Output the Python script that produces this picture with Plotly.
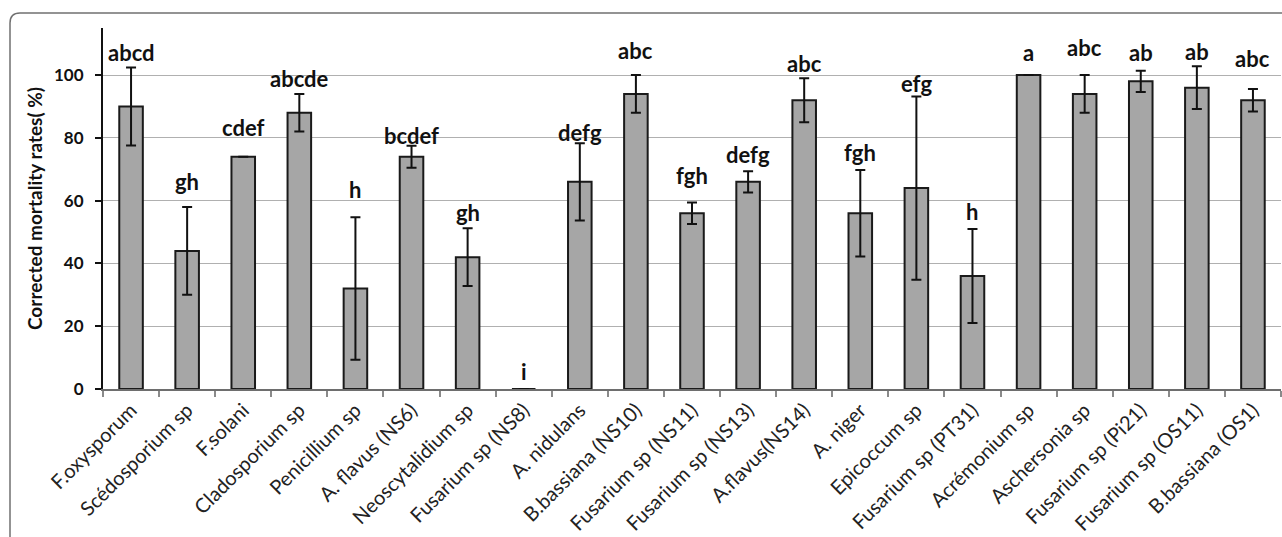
import plotly.graph_objects as go

# Fungal isolates tested
isolates = [
    "F.oxysporum", "Scédosporium sp", "F.solani", "Cladosporium sp",
    "Penicillium sp", "A. flavus (NS6)", "Neoscytalidium sp", "Fusarium sp (NS8)",
    "A. nidulans", "B.bassiana (NS10)", "Fusarium sp (NS11)", "Fusarium sp (NS13)",
    "A.flavus(NS14)", "A. niger", "Epicoccum sp", "Fusarium sp (PT31)",
    "Acrémonium sp", "Aschersonia sp", "Fusarium sp (Pi21)", "Fusarium sp (OS11)",
    "B.bassiana (OS1)",
]

# Corrected mortality (%) and standard deviation
mortality = [90, 44, 74, 88, 32, 74, 42, 0, 66, 94, 56, 66, 92, 56, 64, 36, 100, 94, 98, 96, 92]
std_dev = [12.4, 14, None, 6, 22.7, 3.5, 9.2, None, 12.3, 6, 3.4, 3.4, 7, 13.8, 29.2, 15,
           None, 6, 3.4, 6.8, 3.6]

# Significance groups
groups = ["abcd", "gh", "cdef", "abcde", "h", "bcdef", "gh", "i", "defg", "abc", "fgh",
          "defg", "abc", "fgh", "efg", "h", "a", "abc", "ab", "ab", "abc"]

# Vertical lift of each group letter above its bar/error cap (px)
label_lift = [5, 15, 19, 5, 17, 0, 5, 7, 0, 14, 17, 6, 4, 7, 2, 7, 12, 17, 8, 4, 20]

W, H = 1282, 537
ML, MR, MT, MB = 103, 1, 28, 148
Y_MAX = 115

FONT = "Lato"

fig = go.Figure()
fig.add_trace(go.Bar(
    x=isolates,
    y=mortality,
    width=0.42,
    marker=dict(color="#a6a6a6", line=dict(color="#1a1a1a", width=2)),
    error_y=dict(type="data", array=std_dev, visible=True, color="#111111",
                 thickness=2, width=5),
    showlegend=False,
))

annotations = []
for name, val, err, g, lift in zip(isolates, mortality, std_dev, groups, label_lift):
    top = val + (err or 0)
    annotations.append(dict(
        x=name, y=top, xref="x", yref="y", text=g, showarrow=False,
        yanchor="bottom", yshift=lift - 5,
        font=dict(family=FONT, size=22, color="#111111", weight="bold"),
    ))


def px_to_paper(px, py):
    pw = W - ML - MR
    ph = H - MT - MB
    return (px - ML) / pw, (H - MB - py) / ph


# Rounded outer frame around the chart
r = 10
x0, y0 = 10, 13
pts = [px_to_paper(x0, 600), px_to_paper(x0, y0 + r), px_to_paper(x0, y0),
       px_to_paper(x0 + r, y0), px_to_paper(1300, y0)]
frame_path = (f"M {pts[0][0]},{pts[0][1]} L {pts[1][0]},{pts[1][1]} "
              f"Q {pts[2][0]},{pts[2][1]} {pts[3][0]},{pts[3][1]} "
              f"L {pts[4][0]},{pts[4][1]}")

fig.update_layout(
    width=W, height=H,
    margin=dict(l=ML, r=MR, t=MT, b=MB, autoexpand=False),
    paper_bgcolor="white", plot_bgcolor="white",
    font=dict(family=FONT, color="#222222"),
    annotations=annotations,
    shapes=[dict(type="path", path=frame_path, xref="paper", yref="paper",
                 line=dict(color="#707070", width=1.5), layer="above")],
)

fig.update_xaxes(
    type="category",
    tickangle=-45,
    tickfont=dict(family=FONT, size=20, color="#222222"),
    showline=True, linecolor="#6e6e6e", linewidth=1.5,
    ticks="outside", tickson="boundaries", ticklen=6, tickcolor="#8a8a8a", tickwidth=1.5,
    showgrid=False,
)

fig.update_yaxes(
    range=[0, Y_MAX],
    tickvals=[0, 20, 40, 60, 80, 100],
    tickfont=dict(family=FONT, size=17, color="#111111", weight="bold"),
    showline=True, linecolor="#111111", linewidth=2,
    ticks="outside", ticklen=6, tickcolor="#111111", tickwidth=1.5,
    ticklabelstandoff=8,
    showgrid=True, gridcolor="#b0b0b0", gridwidth=1.2,
    zeroline=False,
    title=dict(text="Corrected mortality rates( %)", standoff=6,
               font=dict(family=FONT, size=19, color="#111111", weight="bold")),
)

fig.write_html("out.html")
